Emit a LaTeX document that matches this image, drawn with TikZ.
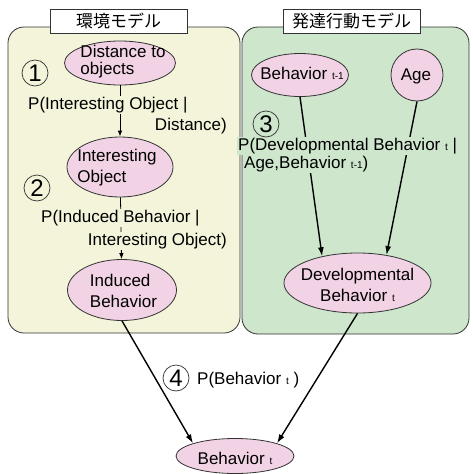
\documentclass[tikz,border=0pt]{standalone}
\usepackage{fontspec}
\setmainfont{Liberation Sans}
\newfontfamily\jpfont{Noto Sans CJK JP}
\usepackage{tikz}
\usetikzlibrary{arrows.meta,positioning,shapes.geometric}

\definecolor{envbg}{HTML}{F4F4DA}
\definecolor{devbg}{HTML}{CDE6CC}
\definecolor{varpink}{HTML}{F2D3E5}
\definecolor{rim}{HTML}{333333}
\newcommand{\tsub}[1]{{\fontsize{10}{10}\selectfont #1}}

\tikzset{
	modelbox/.style={draw=rim, line width=0.8pt, rounded corners=16pt},
	modeltitle/.style={draw=rim, fill=white, line width=0.8pt, minimum width=137pt, minimum height=24pt, inner sep=0pt, font=\jpfont\fontsize{17}{17}\selectfont},
	var/.style={ellipse, draw=rim, fill=varpink, line width=0.8pt, inner sep=0pt},
	vartext/.style={inner sep=0pt, font=\fontsize{17}{21}\selectfont},
	prob/.style={inner sep=1pt, font=\fontsize{17}{21}\selectfont},
	stepnum/.style={circle, draw=rim, line width=0.7pt, minimum size=26pt, inner sep=0pt, font=\fontsize{24}{24}\selectfont},
	thinarrow/.style={-{Latex[length=6pt,width=4.5pt]}, line width=0.8pt},
	thickarrow/.style={-{Latex[length=9pt,width=6pt]}, line width=1.4pt}
}

\begin{document}
\begin{tikzpicture}[x=1pt,y=-1pt]
	\useasboundingbox (0,0) rectangle (472,474);
	% the two models
	\draw[modelbox, fill=envbg] (8,27) rectangle (240,333);
	\draw[modelbox, fill=devbg] (242,27) rectangle (469,334);
	\node[modeltitle] (envtitle) at (118.5,21) {環境モデル};
	\node[modeltitle] (devtitle) at (351.5,21) {発達行動モデル};
	
	% variables
	\node[var, minimum width=111pt, minimum height=44pt] (dist) at (120,63) {};
	\node[vartext, align=left, font=\fontsize{17}{17}\selectfont] (dist-t) at (123,62) {Distance to\\objects};
	\node[var, minimum width=106pt, minimum height=60pt] (obj) at (120,167) {};
	\node[vartext, align=left] (obj-t) at (117,168) {Interesting\\Object};
	\node[var, minimum width=109pt, minimum height=61pt] (ind) at (122,290) {};
	\node[vartext, align=left] (ind-t) at (123.5,291) {Induced\\Behavior};
	\node[var, minimum width=97pt, minimum height=43pt] (prev) at (300,75) {};
	\node[vartext] (prev-t) at (302,73) {Behavior \tsub{t-1}};
	\node[var, circle, minimum size=52pt] (age) at (417,75) {};
	\node[vartext] (age-t) at (416,76) {Age};
	\node[var, minimum width=147pt, minimum height=60pt] (dev) at (357.5,283) {};
	\node[vartext, align=center] (dev-t) at (357.5,285) {Developmental\\Behavior \tsub{t}};
	\node[var, minimum width=118pt, minimum height=35pt] (beh) at (235,456) {};
	\node[vartext] (beh-t) at (235,458) {Behavior \tsub{t}};
	
	% links
	\draw[thinarrow] (dist) -- (obj);
	\draw[thinarrow] (obj) -- (ind);
	\draw[thickarrow] (prev.south) -- (dev.143);
	\draw[thickarrow] (age.south) -- (dev.44);
	\draw[thickarrow] (ind.south) -- (beh.north west);
	\draw[thickarrow] (dev.south) -- (beh.north east);
	
	% probabilities
	\node[prob, fill=envbg, anchor=base west] (p1a) at (27,109) {P(Interesting Object |};
	\node[prob, anchor=base east] (p1b) at (228,130) {Distance)};
	\node[prob, fill=envbg, anchor=base west] (p2a) at (40,222) {P(Induced Behavior |};
	\node[prob, fill=envbg, anchor=base east] (p2b) at (228,245) {Interesting Object)};
	\node[prob, fill=devbg, anchor=base west] (p3a) at (237,150) {P(Developmental Behavior \tsub{t} |};
	\node[prob, fill=devbg, anchor=base west] (p3b) at (243,168) {Age,Behavior \tsub{t-1})};
	\node[prob, anchor=base west] (p4) at (196,384) {P(Behavior \tsub{t} )};
	
	\node[stepnum] (s1) at (35,73) {1};
	\node[stepnum] (s2) at (37,188) {2};
	\node[stepnum] (s3) at (266,124) {3};
	\node[stepnum] (s4) at (176,378) {4};
\end{tikzpicture}
\end{document}
